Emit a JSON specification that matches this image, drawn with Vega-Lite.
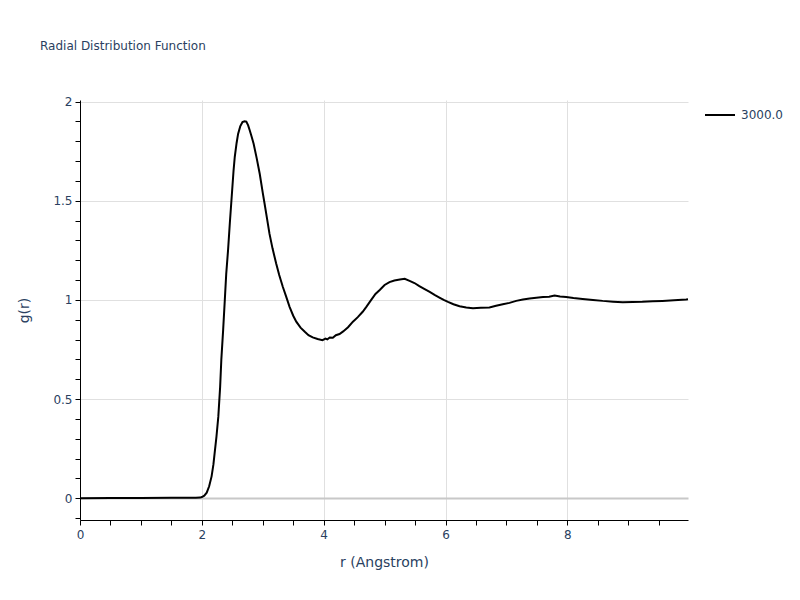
{
  "$schema": "https://vega.github.io/schema/vega-lite/v6.json",
  "width": 608,
  "height": 420,
  "autosize": "none",
  "padding": {"left": 80, "top": 100, "right": 112, "bottom": 80},
  "background": "white",
  "config": {"view": {"stroke": null}, "font": "DejaVu Sans"},
  "title": {"text": "Radial Distribution Function", "anchor": "start", "frame": "group", "dx": -40, "offset": 38, "baseline": "middle", "fontSize": 12, "fontWeight": "normal", "color": "#2a3f5f", "font": "DejaVu Sans"},
  "data": {"values": [
    {"r": 0, "g": 0, "series": "3000.0"},
    {"r": 0.5, "g": 0.001, "series": "3000.0"},
    {"r": 1.0, "g": 0.001, "series": "3000.0"},
    {"r": 1.5, "g": 0.002, "series": "3000.0"},
    {"r": 1.9, "g": 0.002, "series": "3000.0"},
    {"r": 1.97, "g": 0.003, "series": "3000.0"},
    {"r": 2.0, "g": 0.006, "series": "3000.0"},
    {"r": 2.04, "g": 0.013, "series": "3000.0"},
    {"r": 2.08, "g": 0.028, "series": "3000.0"},
    {"r": 2.12, "g": 0.06, "series": "3000.0"},
    {"r": 2.16, "g": 0.11, "series": "3000.0"},
    {"r": 2.19, "g": 0.17, "series": "3000.0"},
    {"r": 2.21, "g": 0.227, "series": "3000.0"},
    {"r": 2.24, "g": 0.31, "series": "3000.0"},
    {"r": 2.27, "g": 0.41, "series": "3000.0"},
    {"r": 2.30, "g": 0.56, "series": "3000.0"},
    {"r": 2.32, "g": 0.70, "series": "3000.0"},
    {"r": 2.35, "g": 0.85, "series": "3000.0"},
    {"r": 2.377, "g": 1.0, "series": "3000.0"},
    {"r": 2.40, "g": 1.13, "series": "3000.0"},
    {"r": 2.43, "g": 1.25, "series": "3000.0"},
    {"r": 2.46, "g": 1.39, "series": "3000.0"},
    {"r": 2.49, "g": 1.52, "series": "3000.0"},
    {"r": 2.52, "g": 1.65, "series": "3000.0"},
    {"r": 2.54, "g": 1.72, "series": "3000.0"},
    {"r": 2.57, "g": 1.79, "series": "3000.0"},
    {"r": 2.595, "g": 1.837, "series": "3000.0"},
    {"r": 2.63, "g": 1.875, "series": "3000.0"},
    {"r": 2.667, "g": 1.897, "series": "3000.0"},
    {"r": 2.70, "g": 1.901, "series": "3000.0"},
    {"r": 2.73, "g": 1.899, "series": "3000.0"},
    {"r": 2.76, "g": 1.88, "series": "3000.0"},
    {"r": 2.787, "g": 1.854, "series": "3000.0"},
    {"r": 2.82, "g": 1.82, "series": "3000.0"},
    {"r": 2.85, "g": 1.787, "series": "3000.0"},
    {"r": 2.90, "g": 1.715, "series": "3000.0"},
    {"r": 2.95, "g": 1.636, "series": "3000.0"},
    {"r": 3.00, "g": 1.54, "series": "3000.0"},
    {"r": 3.03, "g": 1.485, "series": "3000.0"},
    {"r": 3.07, "g": 1.41, "series": "3000.0"},
    {"r": 3.11, "g": 1.334, "series": "3000.0"},
    {"r": 3.16, "g": 1.26, "series": "3000.0"},
    {"r": 3.22, "g": 1.183, "series": "3000.0"},
    {"r": 3.27, "g": 1.125, "series": "3000.0"},
    {"r": 3.33, "g": 1.065, "series": "3000.0"},
    {"r": 3.38, "g": 1.02, "series": "3000.0"},
    {"r": 3.44, "g": 0.965, "series": "3000.0"},
    {"r": 3.50, "g": 0.92, "series": "3000.0"},
    {"r": 3.55, "g": 0.89, "series": "3000.0"},
    {"r": 3.62, "g": 0.86, "series": "3000.0"},
    {"r": 3.69, "g": 0.839, "series": "3000.0"},
    {"r": 3.75, "g": 0.822, "series": "3000.0"},
    {"r": 3.82, "g": 0.811, "series": "3000.0"},
    {"r": 3.90, "g": 0.803, "series": "3000.0"},
    {"r": 3.98, "g": 0.797, "series": "3000.0"},
    {"r": 4.03, "g": 0.805, "series": "3000.0"},
    {"r": 4.06, "g": 0.801, "series": "3000.0"},
    {"r": 4.10, "g": 0.810, "series": "3000.0"},
    {"r": 4.15, "g": 0.809, "series": "3000.0"},
    {"r": 4.20, "g": 0.822, "series": "3000.0"},
    {"r": 4.26, "g": 0.828, "series": "3000.0"},
    {"r": 4.32, "g": 0.841, "series": "3000.0"},
    {"r": 4.40, "g": 0.862, "series": "3000.0"},
    {"r": 4.48, "g": 0.89, "series": "3000.0"},
    {"r": 4.56, "g": 0.913, "series": "3000.0"},
    {"r": 4.64, "g": 0.94, "series": "3000.0"},
    {"r": 4.70, "g": 0.965, "series": "3000.0"},
    {"r": 4.78, "g": 1.0, "series": "3000.0"},
    {"r": 4.85, "g": 1.03, "series": "3000.0"},
    {"r": 4.92, "g": 1.05, "series": "3000.0"},
    {"r": 5.00, "g": 1.075, "series": "3000.0"},
    {"r": 5.08, "g": 1.09, "series": "3000.0"},
    {"r": 5.16, "g": 1.098, "series": "3000.0"},
    {"r": 5.25, "g": 1.103, "series": "3000.0"},
    {"r": 5.33, "g": 1.106, "series": "3000.0"},
    {"r": 5.41, "g": 1.096, "series": "3000.0"},
    {"r": 5.49, "g": 1.085, "series": "3000.0"},
    {"r": 5.57, "g": 1.069, "series": "3000.0"},
    {"r": 5.65, "g": 1.055, "series": "3000.0"},
    {"r": 5.74, "g": 1.04, "series": "3000.0"},
    {"r": 5.82, "g": 1.025, "series": "3000.0"},
    {"r": 5.90, "g": 1.012, "series": "3000.0"},
    {"r": 5.97, "g": 1.0, "series": "3000.0"},
    {"r": 6.04, "g": 0.99, "series": "3000.0"},
    {"r": 6.13, "g": 0.978, "series": "3000.0"},
    {"r": 6.23, "g": 0.968, "series": "3000.0"},
    {"r": 6.34, "g": 0.962, "series": "3000.0"},
    {"r": 6.45, "g": 0.958, "series": "3000.0"},
    {"r": 6.58, "g": 0.96, "series": "3000.0"},
    {"r": 6.72, "g": 0.962, "series": "3000.0"},
    {"r": 6.83, "g": 0.97, "series": "3000.0"},
    {"r": 6.94, "g": 0.978, "series": "3000.0"},
    {"r": 7.05, "g": 0.985, "series": "3000.0"},
    {"r": 7.16, "g": 0.995, "series": "3000.0"},
    {"r": 7.27, "g": 1.002, "series": "3000.0"},
    {"r": 7.38, "g": 1.007, "series": "3000.0"},
    {"r": 7.49, "g": 1.011, "series": "3000.0"},
    {"r": 7.60, "g": 1.014, "series": "3000.0"},
    {"r": 7.70, "g": 1.016, "series": "3000.0"},
    {"r": 7.79, "g": 1.022, "series": "3000.0"},
    {"r": 7.88, "g": 1.017, "series": "3000.0"},
    {"r": 7.98, "g": 1.015, "series": "3000.0"},
    {"r": 8.10, "g": 1.01, "series": "3000.0"},
    {"r": 8.25, "g": 1.005, "series": "3000.0"},
    {"r": 8.42, "g": 1.0, "series": "3000.0"},
    {"r": 8.58, "g": 0.995, "series": "3000.0"},
    {"r": 8.75, "g": 0.991, "series": "3000.0"},
    {"r": 8.91, "g": 0.988, "series": "3000.0"},
    {"r": 9.07, "g": 0.989, "series": "3000.0"},
    {"r": 9.23, "g": 0.99, "series": "3000.0"},
    {"r": 9.40, "g": 0.993, "series": "3000.0"},
    {"r": 9.56, "g": 0.995, "series": "3000.0"},
    {"r": 9.75, "g": 0.998, "series": "3000.0"},
    {"r": 9.95, "g": 1.002, "series": "3000.0"},
    {"r": 9.98, "g": 1.003, "series": "3000.0"}
  ]},
  "mark": {"type": "line", "strokeWidth": 2, "clip": true},
  "encoding": {
    "x": {
      "field": "r", "type": "quantitative",
      "scale": {"domain": [0, 9.98], "nice": false, "zero": false},
      "axis": {
        "title": "r (Angstrom)",
        "values": [0, 0.5, 1, 1.5, 2, 2.5, 3, 3.5, 4, 4.5, 5, 5.5, 6, 6.5, 7, 7.5, 8, 8.5, 9, 9.5],
        "format": "~g",
        "labelExpr": "datum.value % 2 == 0 ? datum.label : ''",
        "grid": true,
        "gridColor": "#e0e0e0",
        "gridWidth": 1,
        "gridOpacity": {"condition": {"test": "datum.value % 2 == 0 && datum.value > 0", "value": 1}, "value": 0},
        "domainColor": "black", "domainWidth": 1,
        "tickColor": "black", "tickSize": 5, "tickWidth": 1,
        "labelFont": "DejaVu Sans", "labelFontSize": 12, "labelColor": "#2a3f5f", "labelPadding": 4,
        "labelFlush": false,
        "titleFont": "DejaVu Sans", "titleFontSize": 14, "titleFontWeight": "normal", "titleColor": "#2a3f5f", "titlePadding": 15
      }
    },
    "y": {
      "field": "g", "type": "quantitative",
      "scale": {"domain": [-0.11, 2.008], "nice": false, "zero": false},
      "axis": {
        "title": "g(r)",
        "values": [-0.1, 0, 0.1, 0.2, 0.3, 0.4, 0.5, 0.6, 0.7, 0.8, 0.9, 1, 1.1, 1.2, 1.3, 1.4, 1.5, 1.6, 1.7, 1.8, 1.9, 2],
        "format": "~g",
        "labelExpr": "abs(datum.value*2 - round(datum.value*2)) < 0.001 ? datum.label : ''",
        "grid": true,
        "gridColor": {"condition": {"test": "datum.value == 0", "value": "#c8c8c8"}, "value": "#e0e0e0"},
        "gridWidth": {"condition": {"test": "datum.value == 0", "value": 2}, "value": 1},
        "gridOpacity": {"condition": {"test": "abs(datum.value*2 - round(datum.value*2)) < 0.001", "value": 1}, "value": 0},
        "domainColor": "black", "domainWidth": 1,
        "tickColor": "black", "tickSize": 5, "tickWidth": 1,
        "labelFont": "DejaVu Sans", "labelFontSize": 12, "labelColor": "#2a3f5f", "labelPadding": 3,
        "labelFlush": false,
        "titleFont": "DejaVu Sans", "titleFontSize": 14, "titleFontWeight": "normal", "titleColor": "#2a3f5f", "titlePadding": 21
      }
    },
    "color": {
      "field": "series", "type": "nominal",
      "scale": {"domain": ["3000.0"], "range": ["black"]},
      "legend": {
        "title": null, "orient": "none", "legendX": 624, "legendY": -1,
        "symbolType": "stroke", "symbolSize": 900, "symbolStrokeWidth": 2,
        "labelFont": "DejaVu Sans", "labelFontSize": 12, "labelColor": "#2a3f5f", "labelOffset": 5,
        "padding": 0
      }
    }
  }
}
